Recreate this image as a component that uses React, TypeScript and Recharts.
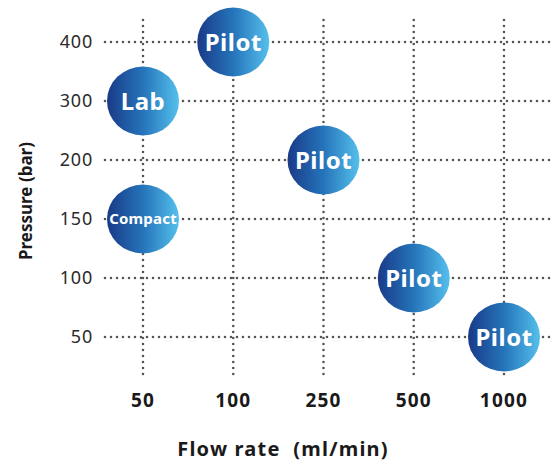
import { CartesianGrid, Label, Scatter, ScatterChart, XAxis, YAxis } from "recharts";

const flowRates = ["50", "100", "250", "500", "1000"];
const pressures = ["50", "100", "150", "200", "300", "400"];

const systemNames = ["Lab", "Compact", "Pilot", "Pilot", "Pilot", "Pilot"];
const systemFlow = ["50", "50", "100", "250", "500", "1000"];
const systemPressure = ["300", "150", "400", "200", "100", "50"];

const FONT = "'Noto Sans', 'DejaVu Sans', sans-serif";

type Bubble = { name: string; x: number; y: number };

const bubbles: Bubble[] = systemNames.map((name, i) => ({
  name,
  x: flowRates.indexOf(systemFlow[i]),
  y: pressures.indexOf(systemPressure[i]),
}));

function BubbleShape(props: any) {
  const { cx, cy, payload } = props;
  const small = payload.name.length > 5;
  return (
    <g>
      <ellipse cx={cx} cy={cy} rx={36} ry={34.5} fill="url(#bubbleGrad)" />
      <text
        x={cx}
        y={cy}
        dy="0.36em"
        textAnchor="middle"
        fill="#ffffff"
        fontFamily={FONT}
        fontWeight={700}
        fontSize={small ? 15 : 24}
        letterSpacing={small ? 0.2 : 0.5}
      >
        {payload.name}
      </text>
    </g>
  );
}

export default function App() {
  return (
    <div style={{ position: "absolute", left: 0, top: 0, background: "#fff" }}>
      <ScatterChart
        width={551}
        height={463}
        margin={{ top: 20, right: 0, left: 0, bottom: 43 }}
      >
        <defs>
          <linearGradient id="bubbleGrad" x1="0" y1="0" x2="1" y2="0">
            <stop offset="0%" stopColor="#1a3a88" />
            <stop offset="50%" stopColor="#2574ba" />
            <stop offset="100%" stopColor="#55c0ec" />
          </linearGradient>
        </defs>
        <CartesianGrid
          syncWithTicks
          stroke="#555555"
          strokeWidth={2.6}
          strokeDasharray="0 6"
          strokeLinecap="round"
        />
        <XAxis
          type="number"
          dataKey="x"
          domain={[0, flowRates.length - 1]}
          ticks={flowRates.map((_, i) => i)}
          tickFormatter={(i: number) => flowRates[i]}
          padding={{ left: 38, right: 47 }}
          height={40}
          axisLine={false}
          tickLine={false}
          tickSize={0}
          tickMargin={14}
          tick={{
            fontSize: 19,
            fontWeight: 700,
            fill: "#1a1a1a",
            fontFamily: FONT,
            letterSpacing: 1.2,
          }}
        >
          <Label
            content={() => (
              <text
                x={283}
                y={456}
                textAnchor="middle"
                fontFamily={FONT}
                fontWeight={700}
                fontSize={20}
                letterSpacing={1.2}
                fill="#1a1a1a"
                style={{ whiteSpace: "pre" }}
              >
                {"Flow rate  (ml/min)"}
              </text>
            )}
          />
        </XAxis>
        <YAxis
          type="number"
          dataKey="y"
          domain={[0, pressures.length - 1]}
          ticks={pressures.map((_, i) => i)}
          tickFormatter={(i: number) => pressures[i]}
          padding={{ top: 22, bottom: 43 }}
          width={105}
          axisLine={false}
          tickLine={false}
          tickSize={0}
          tickMargin={12}
          tick={{
            fontSize: 18,
            fill: "#2a2a2a",
            fontFamily: FONT,
            letterSpacing: 0.8,
          }}
        >
          <Label
            content={() => (
              <text
                x={26}
                y={201}
                transform="rotate(-90 26 201)"
                dy="0.36em"
                textAnchor="middle"
                fontFamily={FONT}
                fontWeight={700}
                fontSize={17}
                fill="#1a1a1a"
              >
                Pressure (bar)
              </text>
            )}
          />
        </YAxis>
        <Scatter data={bubbles} shape={BubbleShape} isAnimationActive={false} />
      </ScatterChart>
    </div>
  );
}
